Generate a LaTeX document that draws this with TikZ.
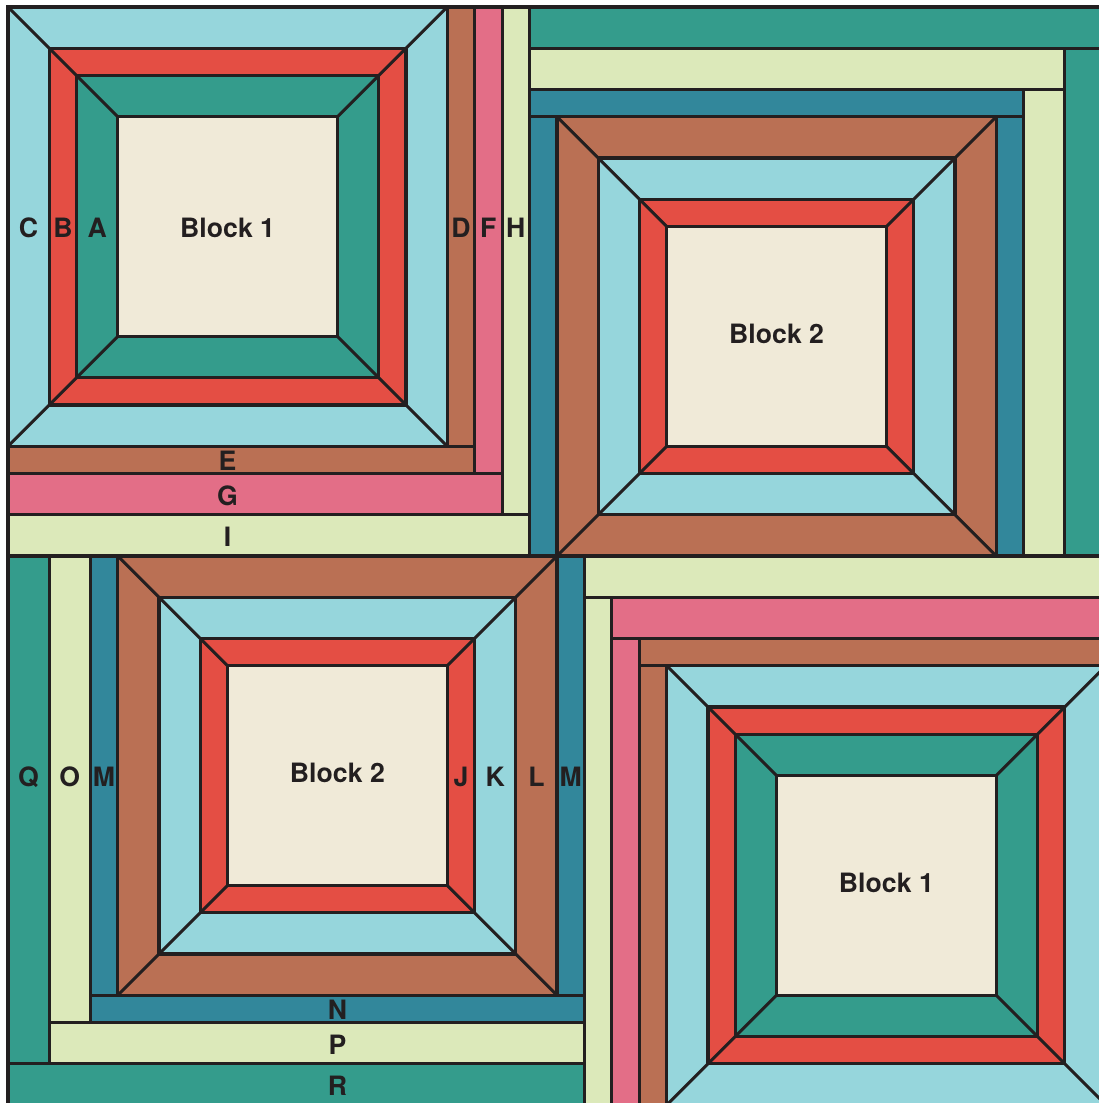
\documentclass[tikz,border=0pt]{standalone}
\usepackage{fontspec}
\setsansfont{TeX Gyre Heros}
\usepackage{tikz}
\definecolor{cSky}{RGB}{150,214,220}
\definecolor{cRed}{RGB}{228,78,68}
\definecolor{cTeal}{RGB}{52,156,140}
\definecolor{cCream}{RGB}{240,234,216}
\definecolor{cBrown}{RGB}{186,112,84}
\definecolor{cPink}{RGB}{227,110,135}
\definecolor{cLime}{RGB}{220,233,186}
\definecolor{cPetrol}{RGB}{50,135,155}
\definecolor{cInk}{RGB}{35,31,32}
% mitred block: top-left corner, ring colours out->in, inset of the middle ring
\newcommand{\qblock}[6]{%
  \begin{scope}[shift={(#1,#2)}]
    \fill[#3] (0,0) rectangle (8,8);
    \fill[#4] (0.75,0.75) rectangle (7.25,7.25);
    \fill[#5] (#6,#6) rectangle (8-#6,8-#6);
    \fill[cCream] (2,2) rectangle (6,6);
    \foreach \d in {0,0.75,#6,2} \draw[seam] (\d,\d) rectangle (8-\d,8-\d);
    \draw[seam] (0,0) -- (2,2) (8,0) -- (6,2) (0,8) -- (2,6) (8,8) -- (6,6);
  \end{scope}}

\begin{document}
\begin{tikzpicture}[y=-1cm,
   seam/.style={draw=cInk,line width=1.6pt},
   strip/.style={fill=#1,draw=cInk,line width=1.6pt},
   lbl/.style={font=\sffamily\bfseries\fontsize{13.8}{16}\selectfont,text=cInk,inner sep=0pt,yshift=-0.6pt}]
 \fill[white] (-0.1457,-0.1275) rectangle (19.872,19.964);
 \useasboundingbox (-0.1457,-0.1275) rectangle (19.872,19.964);
 % top left: block 1 with D..I
 \path[strip=cBrown] (8,0) rectangle (8.5,8);
 \path[strip=cBrown] (0,8) rectangle (8.5,8.5);
 \path[strip=cPink] (8.5,0) rectangle (9,8.5);
 \path[strip=cPink] (0,8.5) rectangle (9,9.25);
 \path[strip=cLime] (9,0) rectangle (9.5,9.25);
 \path[strip=cLime] (0,9.25) rectangle (9.5,10);
 \qblock{0}{0}{cSky}{cRed}{cTeal}{1.25}
 % top right: block 2, strips turned
 \path[strip=cTeal] (9.5,0) rectangle (20,0.75);
 \path[strip=cTeal] (19.25,0.75) rectangle (20,10);
 \path[strip=cLime] (9.5,0.75) rectangle (19.25,1.5);
 \path[strip=cLime] (18.5,1.5) rectangle (19.25,10);
 \path[strip=cPetrol] (9.5,1.5) rectangle (18.5,2);
 \path[strip=cPetrol] (9.5,2) rectangle (10,10);
 \path[strip=cPetrol] (18,2) rectangle (18.5,10);
 \qblock{10}{2}{cBrown}{cSky}{cRed}{1.5}
 % bottom left: block 2 with M..R
 \path[strip=cPetrol] (1.5,10) rectangle (2,18);
 \path[strip=cPetrol] (10,10) rectangle (10.5,18);
 \path[strip=cPetrol] (1.5,18) rectangle (10.5,18.5);
 \path[strip=cLime] (0.75,10) rectangle (1.5,18.5);
 \path[strip=cLime] (0.75,18.5) rectangle (10.5,19.25);
 \path[strip=cTeal] (0,10) rectangle (0.75,19.25);
 \path[strip=cTeal] (0,19.25) rectangle (10.5,20);
 \qblock{2}{10}{cBrown}{cSky}{cRed}{1.5}
 % bottom right: block 1, strips turned
 \path[strip=cLime] (10.5,10) rectangle (20,10.75);
 \path[strip=cLime] (10.5,10.75) rectangle (11,20);
 \path[strip=cPink] (11,10.75) rectangle (20,11.5);
 \path[strip=cPink] (11,11.5) rectangle (11.5,20);
 \path[strip=cBrown] (11.5,11.5) rectangle (20,12);
 \path[strip=cBrown] (11.5,12) rectangle (12,20);
 \qblock{12}{12}{cSky}{cRed}{cTeal}{1.25}
 % labels
 \node[lbl] (blkA) at (4,4) {Block 1};
 \node[lbl] (blkB) at (14,5.93) {Block 2};
 \node[lbl] (blkC) at (6,13.93) {Block 2};
 \node[lbl] (blkD) at (16,15.93) {Block 1};
 \foreach \t/\x/\y in {C/0.375/4,B/1/4,A/1.625/4,D/8.25/4,F/8.75/4,H/9.25/4,
   E/4/8.25,G/4/8.875,I/4/9.625}
   \node[lbl] (lt\t) at (\x,\y) {\t};
 \foreach \t/\x/\y [count=\k] in {Q/0.375/14,O/1.125/14,M/1.75/14,J/8.25/14,
   K/8.875/14,L/9.625/14,M/10.25/14,N/6/18.25,P/6/18.875,R/6/19.625}
   \node[lbl] (lb\k) at (\x,\y) {\t};
\end{tikzpicture}
\end{document}
